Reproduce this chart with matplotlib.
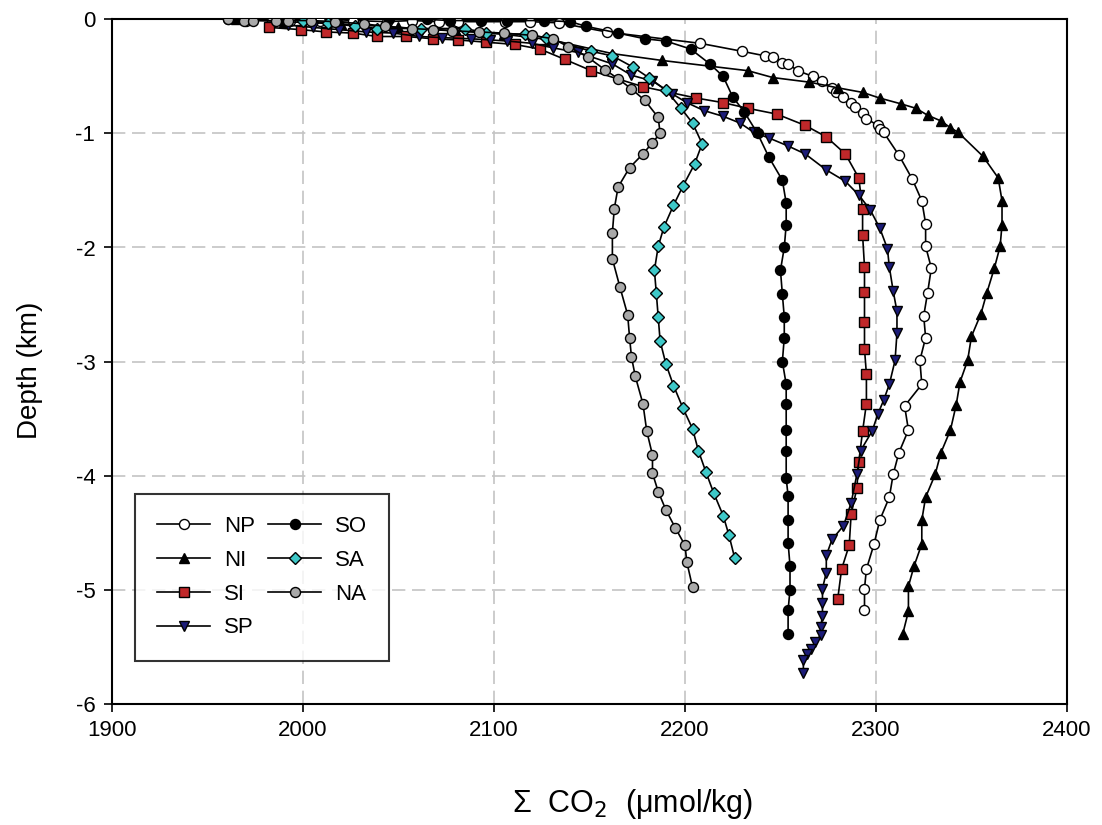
import matplotlib
matplotlib.use("Agg")
import matplotlib.pyplot as plt

plt.rcParams['font.family'] = ['Liberation Sans', 'DejaVu Sans']
plt.rcParams['axes.unicode_minus'] = False

# ---- data (Sigma CO2 in umol/kg, depth in km) ----
NP_x = [1961,1970,1974,1984,1993,2009,2014,2026,2044,2057,2071,2081,2106,2119,2134,2159,2208,2230,2242,2246,
        2251,2254,2259,2267,2272,2277,2279,2283,2287,2289,2293,2295,2301,2302,2304,2312,2319,2324,2326,2326,
        2329,2327,2325,2326,2323,2324,2315,2317,2312,2309,2307,2302,2299,2295,2294,2294]
NP_d = [0,-0.01,0,-0.01,-0.01,-0.01,-0.02,-0.01,-0.02,-0.01,-0.02,-0.02,-0.02,-0.02,-0.03,-0.11,-0.21,-0.28,-0.32,-0.33,
        -0.38,-0.39,-0.45,-0.50,-0.54,-0.60,-0.64,-0.68,-0.73,-0.77,-0.82,-0.87,-0.93,-0.96,-0.99,-1.19,-1.40,-1.59,-1.79,-1.99,
        -2.18,-2.40,-2.60,-2.79,-2.99,-3.20,-3.39,-3.60,-3.80,-3.99,-4.19,-4.39,-4.60,-4.82,-4.99,-5.18]

NI_x = [1965,1990,2020,2050,2080,2105,2130,2162,2188,2233,2246,2265,2280,2293,2302,2313,2321,2327,2334,2339,
        2343,2356,2364,2366,2366,2365,2362,2358,2355,2350,2348,2344,2342,2339,2334,2331,2326,2324,2324,2320,
        2317,2317,2314]
NI_d = [0,-0.02,-0.04,-0.07,-0.10,-0.13,-0.18,-0.30,-0.36,-0.45,-0.51,-0.55,-0.60,-0.64,-0.69,-0.74,-0.78,-0.84,-0.89,-0.95,
        -0.99,-1.20,-1.39,-1.59,-1.80,-1.99,-2.18,-2.40,-2.58,-2.78,-2.99,-3.18,-3.38,-3.60,-3.80,-3.99,-4.19,-4.39,-4.60,-4.79,
        -4.97,-5.19,-5.39]

SI_x = [1982,1999,2012,2026,2039,2054,2068,2081,2096,2111,2124,2137,2151,2178,2206,2220,2233,2248,2263,2274,
        2284,2291,2293,2293,2294,2294,2294,2294,2295,2295,2293,2291,2290,2287,2286,2282,2280]
SI_d = [-0.07,-0.09,-0.11,-0.12,-0.15,-0.15,-0.17,-0.18,-0.20,-0.22,-0.26,-0.35,-0.45,-0.59,-0.69,-0.73,-0.78,-0.83,-0.93,-1.03,
        -1.18,-1.39,-1.66,-1.89,-2.17,-2.39,-2.65,-2.89,-3.11,-3.37,-3.61,-3.88,-4.11,-4.34,-4.61,-4.82,-5.08]

SP_x = [1992,2005,2019,2033,2047,2061,2073,2088,2098,2107,2120,2131,2144,2162,2172,2183,2193,2201,2210,2220,
        2229,2236,2244,2254,2263,2274,2284,2291,2297,2302,2306,2307,2309,2311,2311,2310,2307,2304,2301,2298,
        2292,2290,2287,2283,2277,2274,2274,2272,2272,2272,2271,2271,2268,2266,2264,2262,2262]
SP_d = [-0.05,-0.07,-0.09,-0.11,-0.12,-0.15,-0.16,-0.17,-0.18,-0.19,-0.21,-0.25,-0.29,-0.39,-0.49,-0.54,-0.65,-0.73,-0.80,-0.85,
        -0.91,-0.99,-1.04,-1.11,-1.18,-1.32,-1.42,-1.54,-1.67,-1.83,-2.01,-2.17,-2.38,-2.56,-2.75,-2.99,-3.20,-3.34,-3.46,-3.61,
        -3.78,-3.99,-4.24,-4.44,-4.56,-4.70,-4.85,-4.99,-5.12,-5.23,-5.33,-5.40,-5.46,-5.52,-5.56,-5.62,-5.73]

SO_x = [2045,2065,2077,2093,2107,2126,2140,2148,2165,2179,2190,2203,2213,2220,2225,2231,2238,2244,2251,2253,
        2253,2252,2250,2251,2252,2252,2251,2253,2253,2253,2253,2253,2254,2254,2254,2255,2255,2254,2254]
SO_d = [0,0,-0.01,-0.01,-0.01,-0.01,-0.02,-0.06,-0.12,-0.17,-0.19,-0.26,-0.39,-0.50,-0.68,-0.81,-1.00,-1.21,-1.41,-1.61,
        -1.80,-2.00,-2.20,-2.41,-2.61,-2.79,-3.00,-3.20,-3.37,-3.60,-3.78,-4.02,-4.18,-4.39,-4.59,-4.79,-5.00,-5.18,-5.39]

SA_x = [2000,2013,2027,2039,2062,2085,2096,2116,2127,2151,2162,2173,2181,2190,2198,2204,2209,2205,2199,2194,
        2189,2186,2184,2185,2186,2187,2190,2194,2199,2204,2207,2211,2215,2220,2223,2226]
SA_d = [-0.01,-0.03,-0.06,-0.08,-0.08,-0.08,-0.12,-0.13,-0.16,-0.28,-0.32,-0.42,-0.51,-0.62,-0.78,-0.91,-1.09,-1.27,-1.46,-1.63,
        -1.82,-1.99,-2.20,-2.40,-2.61,-2.82,-3.02,-3.21,-3.41,-3.59,-3.78,-3.97,-4.15,-4.35,-4.52,-4.72]

NA_x = [1961,1969,1974,1986,1992,2004,2017,2032,2043,2057,2068,2078,2092,2105,2120,2131,2139,2149,2158,2165,
        2172,2179,2186,2187,2183,2178,2171,2165,2163,2162,2162,2166,2170,2171,2172,2174,2178,2180,2183,2183,
        2186,2190,2195,2200,2201,2204]
NA_d = [0,-0.01,-0.01,-0.01,-0.01,-0.01,-0.02,-0.04,-0.06,-0.08,-0.09,-0.10,-0.11,-0.12,-0.14,-0.17,-0.24,-0.33,-0.44,-0.52,
        -0.61,-0.71,-0.86,-1.00,-1.08,-1.18,-1.30,-1.47,-1.66,-1.87,-2.10,-2.35,-2.59,-2.79,-2.96,-3.13,-3.37,-3.61,-3.82,-3.98,
        -4.14,-4.30,-4.46,-4.61,-4.76,-4.98]

x_ticks = [1900, 2000, 2100, 2200, 2300, 2400]
y_ticks = [0, -1, -2, -3, -4, -5, -6]

series = [
    ("NP", NP_x, NP_d, "o", "white", 7.2),
    ("NI", NI_x, NI_d, "^", "black", 7.2),
    ("SI", SI_x, SI_d, "s", "#c0282a", 6.8),
    ("SP", SP_x, SP_d, "v", "#1c1c78", 7.2),
    ("SO", SO_x, SO_d, "o", "black", 7.2),
    ("SA", SA_x, SA_d, "D", "#3ec8c8", 6.2),
    ("NA", NA_x, NA_d, "o", "#a9a9a9", 7.2),
]

fig = plt.figure(figsize=(11.02, 8.25), dpi=100)
ax = fig.add_axes([0.1016, 0.147, 0.8666, 0.8295])

for name, xs, ds, mk, col, ms in series:
    ax.plot(xs, ds, color="black", lw=1.2, marker=mk, markersize=ms,
            markerfacecolor=col, markeredgecolor="black", markeredgewidth=1.0,
            label=name, zorder=3)

ax.set_xlim(1900, 2400)
ax.set_ylim(-6, 0)
ax.set_xticks(x_ticks)
ax.set_yticks(y_ticks)
ax.tick_params(axis="both", direction="out", length=6, width=1.2, labelsize=16,
               top=False, right=False, pad=6)
ax.grid(True, color="#c4c4c4", linestyle=(0, (8, 4)), linewidth=1.2, zorder=0)
ax.set_axisbelow(True)
for s in ax.spines.values():
    s.set_linewidth(1.5)

ax.set_xlabel("Σ  CO$_2$  (μmol/kg)", fontsize=22)
ax.xaxis.set_label_coords((633 - 112) / 955, -0.122)
ax.set_ylabel("Depth (km)", fontsize=20)
ax.yaxis.set_label_coords(-0.072, 0.487)

leg = ax.legend(ncol=2, loc="lower left", bbox_to_anchor=(0.024, 0.063),
                fontsize=16, frameon=True, fancybox=False, edgecolor="black",
                handlelength=2.4, handletextpad=0.6, columnspacing=0.6,
                labelspacing=0.58, borderpad=1.0, borderaxespad=0)
leg.get_frame().set_linewidth(1.5)

fig.savefig("out.png", dpi=100)
